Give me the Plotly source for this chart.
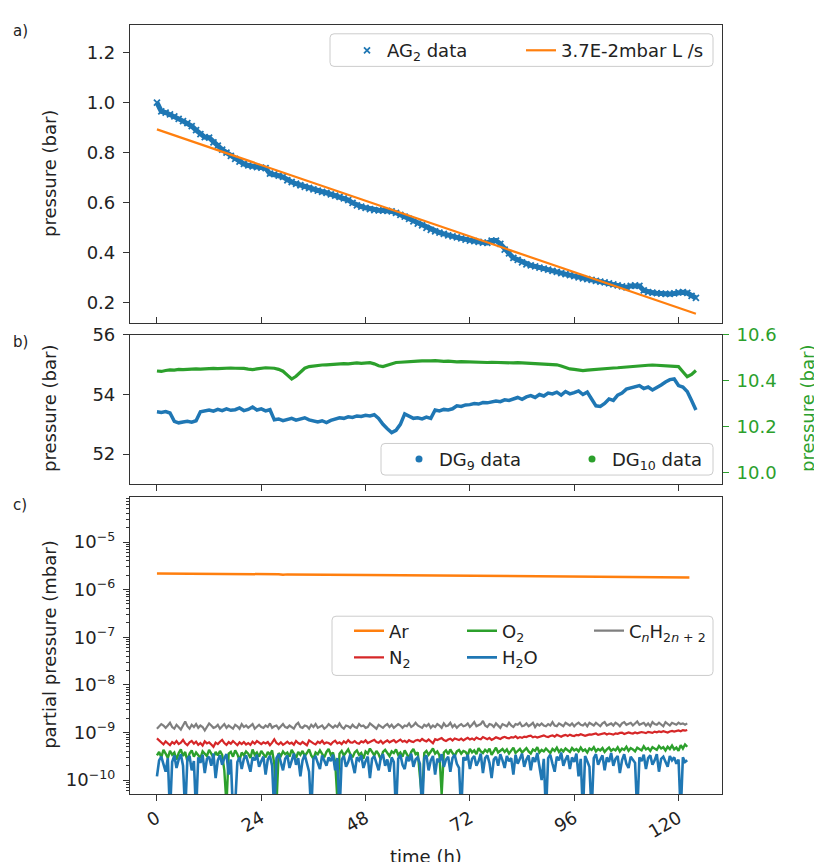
import plotly.graph_objects as go

# ---------------- data ----------------
# a) AG2 pressure (bar), hourly samples starting at t = 0 h
ag2_pressure = [
    1.000, 0.965, 0.960, 0.953, 0.945, 0.935, 0.926, 0.918, 0.906, 0.890,
    0.874, 0.862, 0.860, 0.841, 0.828, 0.812, 0.800, 0.787, 0.775, 0.764,
    0.755, 0.749, 0.745, 0.742, 0.740, 0.738, 0.716, 0.714, 0.708, 0.703,
    0.690, 0.683, 0.676, 0.670, 0.664, 0.659, 0.654, 0.649, 0.644, 0.640,
    0.634, 0.629, 0.624, 0.618, 0.611, 0.600, 0.590, 0.585, 0.580, 0.575,
    0.571, 0.570, 0.569, 0.568, 0.566, 0.560, 0.552, 0.545, 0.536, 0.526,
    0.517, 0.510, 0.500, 0.492, 0.486, 0.481, 0.476, 0.470, 0.466, 0.462,
    0.458, 0.453, 0.449, 0.447, 0.444, 0.441, 0.440, 0.449, 0.449, 0.436,
    0.413, 0.398, 0.380, 0.372, 0.362, 0.354, 0.350, 0.346, 0.341, 0.337,
    0.333, 0.328, 0.324, 0.319, 0.315, 0.311, 0.307, 0.302, 0.298, 0.295,
    0.292, 0.288, 0.285, 0.282, 0.278, 0.274, 0.270, 0.266, 0.262, 0.268,
    0.270, 0.268, 0.250, 0.243, 0.241, 0.239, 0.237, 0.236, 0.236, 0.238,
    0.242, 0.243, 0.240, 0.228, 0.220]
fit_hours = [0, 124]
fit_pressure = [0.893, 0.157]

# b) DG9 (left axis) and DG10 (right axis) pressure (bar), hourly
dg9_pressure = [
    53.42, 53.40, 53.43, 53.38, 53.10, 53.05, 53.08, 53.10, 53.07, 53.12,
    53.42, 53.45, 53.48, 53.44, 53.50, 53.46, 53.52, 53.47, 53.49, 53.55,
    53.46, 53.50, 53.58, 53.48, 53.52, 53.45, 53.49, 53.15, 53.18, 53.12,
    53.16, 53.20, 53.14, 53.17, 53.22, 53.15, 53.10, 53.08, 53.12, 53.06,
    53.13, 53.18, 53.22, 53.20, 53.25, 53.23, 53.28, 53.26, 53.30, 53.28,
    53.32, 53.20, 53.00, 52.85, 52.72, 52.80, 53.00, 53.35, 53.28, 53.20,
    53.22, 53.18, 53.24, 53.20, 53.48, 53.45, 53.50, 53.48, 53.52, 53.62,
    53.60, 53.65, 53.66, 53.70, 53.68, 53.73, 53.72, 53.75, 53.78, 53.76,
    53.82, 53.80, 53.86, 53.90, 53.84, 53.92, 53.96, 53.90, 54.00, 53.95,
    54.05, 54.02, 54.08, 53.98, 54.10, 54.02, 54.06, 54.12, 54.00, 54.08,
    53.85, 53.62, 53.60, 53.70, 53.85, 53.80, 53.98, 54.05, 54.18, 54.22,
    54.28, 54.30, 54.20, 54.25, 54.15, 54.22, 54.32, 54.42, 54.50, 54.52,
    54.30, 54.25, 54.10, 53.80, 53.48]
dg10_pressure = [
    10.443, 10.441, 10.445, 10.448, 10.447, 10.450, 10.449, 10.451, 10.450, 10.452,
    10.451, 10.453, 10.452, 10.454, 10.453, 10.455, 10.454, 10.456, 10.455, 10.456,
    10.454, 10.451, 10.449, 10.452, 10.455, 10.457, 10.456, 10.455, 10.450, 10.442,
    10.425, 10.408, 10.420, 10.440, 10.455, 10.462, 10.465, 10.467, 10.469, 10.470,
    10.472, 10.471, 10.474, 10.475, 10.474, 10.477, 10.478, 10.476, 10.478, 10.479,
    10.474, 10.466, 10.462, 10.468, 10.476, 10.480, 10.481, 10.483, 10.484, 10.485,
    10.486, 10.487, 10.486, 10.487, 10.488, 10.486, 10.485, 10.486, 10.484, 10.483,
    10.484, 10.483, 10.482, 10.481, 10.482, 10.481, 10.480, 10.481, 10.480, 10.479,
    10.480, 10.479, 10.478, 10.479, 10.478, 10.477, 10.476, 10.477, 10.476, 10.475,
    10.474, 10.473, 10.470, 10.465, 10.458, 10.452, 10.450, 10.448, 10.445, 10.447,
    10.449, 10.450, 10.452, 10.454, 10.455, 10.456, 10.457, 10.459, 10.460, 10.462,
    10.464, 10.465, 10.467, 10.468, 10.469, 10.468, 10.468, 10.467, 10.466, 10.464,
    10.462, 10.440, 10.418, 10.428, 10.445]

# c) partial pressures; Ar in units of 1e-6 mbar,
#    the others in units of 1e-10 mbar, sampled every half hour from t = 0 h
ar_hours = [0, 12, 24, 28, 29, 30, 48, 60, 72, 84, 96, 108, 120, 122.5]
ar_e6 = [2.18, 2.16, 2.12, 2.10, 2.05, 2.09, 2.04, 2.01, 1.97, 1.93, 1.90, 1.86, 1.82, 1.80]
cnh_e10 = [
    12, 13.5, 15, 14, 12.5, 14, 16, 13, 12, 14.5,
    13, 11.5, 14, 17, 13.5, 12, 14.5, 13, 15, 12.5,
    14, 13, 11, 13.5, 15.5, 14, 12.5, 13, 14.5, 12,
    13.5, 15, 12.5, 14, 13, 12, 14.5, 13.5, 12, 15,
    13, 14, 12.5, 13.5, 15, 12, 13, 14.5, 13, 12.5,
    14, 13, 15.5, 12.5, 13.5, 14, 12, 13.5, 15, 13,
    12.5, 14, 13, 12, 14.5, 16, 13, 12.5, 14, 13.5,
    12, 14.5, 13, 15, 12.5, 13.5, 14, 12, 13, 15,
    13.5, 12.5, 14, 13, 15.5, 13, 12, 14, 13.5, 12.5,
    14.5, 13, 12.5, 15, 13.5, 14, 12.5, 13, 15.5, 14,
    13, 12, 14.5, 13.5, 12.5, 14, 15, 13, 14.5, 12.5,
    13.5, 15, 14, 12.5, 14, 13.5, 15.5, 13, 14, 16,
    14, 13, 12.5, 14.5, 13.5, 15, 12.5, 14, 13, 15,
    14, 12.5, 15.5, 13.5, 14, 16, 13, 14.5, 12.5, 14,
    15, 13.5, 14, 15.5, 13, 14.5, 16.5, 13.5, 14, 15,
    17.5, 14, 13, 15, 14.5, 13, 15.5, 14, 12.5, 15,
    14.5, 13.5, 16, 14, 13, 15, 14.5, 16, 13.5, 14,
    15.5, 13.5, 14.5, 16, 13, 15, 14, 15.5, 14, 13.5,
    15, 14, 16.5, 14, 13.5, 15.5, 14.5, 13.5, 16, 15,
    14, 15.5, 13.5, 15, 16, 14.5, 14, 15.5, 13.5, 16,
    15, 14, 16, 14.5, 13.5, 15.5, 16.5, 14, 15, 15.5,
    14, 16, 15, 13.5, 15.5, 16.5, 14.5, 15, 16, 14,
    15.5, 17, 14.5, 15, 16, 14, 15.5, 13.5, 16.5, 15,
    14.5, 16, 15, 13.5, 16.5, 15.5, 14, 16, 15, 14.5,
    16, 15, 15.5, 14.5, 15.5]
n2_e10 = [
    7.5, 6.8, 6.2, 5.6, 6.5, 6.0, 5.4, 6.3, 5.8, 6.6,
    5.7, 6.1, 7.0, 5.9, 5.4, 6.2, 6.6, 5.8, 6.4, 5.5,
    6.0, 5.3, 6.5, 5.9, 6.2, 5.6, 5.0, 6.1, 5.7, 6.4,
    7.0, 6.0, 5.5, 6.3, 5.8, 6.6, 5.9, 5.4, 6.2, 5.7,
    6.3, 5.6, 6.0, 5.5, 6.4, 5.8, 6.6, 6.1, 5.7, 6.2,
    5.9, 6.3, 5.4, 6.1, 7.2, 6.0, 5.6, 6.2, 5.5, 5.9,
    6.4, 5.8, 6.1, 5.5, 6.6, 6.0, 5.7, 6.3, 5.9, 5.4,
    6.8, 6.2, 5.9, 5.6, 6.4, 6.0, 6.7, 5.8, 6.2, 6.0,
    5.6, 6.3, 6.7, 5.9, 6.2, 5.7, 6.5, 6.0, 6.9, 6.2,
    6.1, 6.6, 6.0, 5.8, 6.5, 6.2, 6.8, 6.0, 6.3, 6.6,
    7.0, 6.3, 6.1, 6.7, 5.9, 6.4, 6.8, 6.2, 6.5, 6.9,
    6.2, 6.6, 7.1, 6.4, 6.7, 6.2, 6.9, 6.5, 6.3, 6.8,
    7.0, 6.6, 7.3, 6.8, 6.5, 7.1, 6.4, 5.9, 7.2, 6.9,
    7.3, 7.6, 6.9, 6.6, 7.1, 7.4, 6.8, 7.5, 7.2, 6.9,
    7.4, 6.8, 7.3, 7.7, 7.1, 7.5, 7.0, 7.8, 7.4, 7.2,
    8.0, 7.5, 7.2, 7.7, 7.0, 7.4, 7.9, 7.6, 7.3, 7.8,
    8.1, 7.7, 7.5, 8.0, 7.8, 8.3, 7.6, 8.0, 7.7, 8.2,
    8.0, 8.4, 8.6, 7.9, 8.2, 7.8, 8.1, 8.5, 8.7, 8.2,
    8.0, 8.4, 8.7, 8.2, 8.9, 8.5, 8.1, 8.6, 8.9, 8.4,
    9.0, 8.6, 8.4, 8.9, 8.7, 9.2, 9.0, 8.5, 8.8, 9.1,
    9.0, 9.3, 9.5, 8.9, 9.2, 9.4, 9.7, 9.1, 9.5, 9.3,
    9.0, 9.6, 9.4, 9.8, 9.9, 9.3, 9.6, 10.0, 9.7, 9.5,
    10.0, 9.6, 9.9, 10.2, 10.0, 9.7, 10.3, 10.1, 9.8, 10.4,
    10.1, 10.5, 10.2, 10.6, 10.3, 10.0, 10.5, 10.8, 10.4, 10.7,
    11.0, 10.6, 11.2, 10.9, 11.3]
o2_e10 = [
    3.3, 3.9, 3.0, 4.3, 3.6, 2.9, 4.1, 3.4, 3.8, 2.7,
    3.7, 4.4, 3.2, 3.9, 2.5, 3.6, 4.2, 3.1, 3.8, 3.4,
    2.9, 4.0, 3.5, 3.2, 4.3, 3.7, 3.0, 3.9, 3.3, 4.1,
    3.4, 1.6, 0.3, 3.6, 3.9, 3.1, 4.2, 3.5, 2.6, 3.8,
    3.3, 4.0, 3.6, 2.9, 4.4, 3.4, 3.8, 3.1, 4.1, 3.5,
    3.0, 3.9, 3.4, 4.2, 2.2, 0.3, 3.7, 3.2, 4.0, 3.5,
    3.8, 3.1, 4.3, 3.6, 2.9, 3.9, 3.4, 4.1, 3.2, 3.7,
    4.4, 3.3, 2.8, 3.8, 3.5, 4.2, 3.6, 3.0, 3.9, 4.5,
    3.4, 3.8, 2.4, 0.4, 3.6, 4.1, 3.3, 3.9, 4.4, 3.5,
    3.0, 3.8, 4.2, 3.4, 3.7, 2.8, 4.0, 3.6, 4.6, 3.9,
    3.3, 4.1, 3.5, 2.7, 3.9, 4.3, 3.6, 3.2, 4.0, 3.7,
    4.4, 3.4, 3.8, 3.1, 4.2, 3.6, 2.9, 3.9, 4.5, 3.5,
    3.8, 1.2, 0.4, 3.7, 4.1, 3.4, 3.9, 4.6, 3.6, 4.0,
    3.3, 0.5, 3.8, 4.2, 3.5, 4.4, 3.7, 3.2, 4.0, 4.3,
    3.6, 4.1, 3.9, 3.3, 4.5, 3.8, 4.2, 3.5, 4.7, 4.0,
    3.7, 4.3, 3.9, 4.6, 3.4, 4.1, 4.8, 3.8, 4.2, 4.5,
    3.9, 4.4, 3.6, 4.2, 4.8, 3.7, 4.0, 4.5, 3.8, 4.3,
    4.7, 4.0, 3.6, 4.4, 4.1, 4.9, 3.8, 4.3, 4.0, 4.6,
    4.2, 3.7, 4.5, 4.1, 4.8, 3.9, 4.4, 4.0, 4.6, 4.3,
    3.9, 4.7, 4.2, 4.5, 4.0, 4.8, 4.1, 4.4, 3.8, 4.6,
    4.3, 4.9, 4.0, 4.5, 4.2, 4.7, 3.9, 4.4, 4.8, 4.1,
    4.5, 4.2, 4.9, 4.0, 4.6, 4.3, 5.0, 4.1, 4.7, 4.4,
    4.0, 4.8, 4.5, 4.2, 5.1, 4.4, 4.7, 4.1, 4.9, 4.6,
    4.3, 5.2, 4.6, 4.9, 4.2, 5.0, 4.5, 5.3, 4.4, 4.8,
    4.1, 5.4, 4.6, 5.6, 5.0]
h2o_e10 = [
    1.2, 2.6, 3.1, 2.2, 1.5, 2.9, 0.2, 2.4, 3.3, 1.8,
    2.7, 3.5, 2.0, 0.2, 2.8, 3.2, 1.6, 2.5, 0.2, 3.0,
    2.3, 3.4, 1.4, 2.8, 3.1, 2.0, 3.6, 1.1, 2.6, 3.3,
    2.1, 2.9, 3.5, 1.3, 2.7, 0.2, 0.3, 2.4, 3.0, 1.7,
    2.8, 3.3, 2.2, 1.5, 3.0, 2.6, 3.4, 1.9, 2.5, 3.1,
    1.3, 2.7, 3.2, 2.0, 0.2, 2.9, 3.5, 2.3, 1.6, 2.8,
    3.3, 1.8, 2.5, 3.6, 2.1, 2.9, 1.2, 2.6, 3.4, 2.2,
    1.5, 0.2, 2.8, 3.1, 2.4, 1.7, 3.3, 2.6, 2.0, 3.0,
    2.5, 3.4, 1.6, 2.9, 0.2, 2.7, 3.2, 1.9, 2.4, 3.5,
    2.1, 1.4, 3.0, 2.6, 3.3, 1.8, 2.5, 3.1, 1.1, 2.8,
    3.2, 2.3, 1.6, 2.9, 3.5, 2.0, 2.7, 1.5, 3.0, 2.4,
    0.2, 2.8, 3.4, 2.1, 1.7, 3.1, 2.5, 3.6, 1.9, 2.7,
    3.0, 2.2, 0.2, 2.9, 3.3, 1.6, 2.6, 3.2, 1.3, 2.8,
    2.4, 3.5, 1.9, 2.7, 3.1, 1.5, 2.9, 3.4, 2.2, 1.8,
    0.2, 3.0, 2.6, 3.4, 1.7, 2.8, 3.2, 2.0, 2.5, 3.6,
    1.4, 2.9, 3.3, 2.3, 1.1, 2.7, 3.1, 2.0, 3.5, 2.6,
    1.8, 3.2, 2.5, 2.9, 1.3, 3.4, 2.2, 2.8, 3.6, 1.9,
    2.7, 3.3, 1.6, 3.0, 2.4, 3.7, 2.1, 1.0, 2.8, 0.2,
    2.9, 3.4, 2.2, 1.5, 3.1, 2.6, 3.8, 2.0, 2.7, 3.3,
    1.7, 3.0, 2.4, 3.6, 1.2, 2.8, 0.2, 3.2, 2.5, 1.9,
    0.2, 2.9, 3.5, 2.1, 2.7, 3.3, 1.6, 3.0, 2.4, 3.7,
    2.0, 2.8, 3.2, 1.4, 2.6, 3.5, 2.2, 1.8, 3.1, 2.7,
    2.3, 0.2, 3.0, 2.5, 3.4, 1.7, 2.9, 3.3, 2.1, 2.6,
    3.5, 1.5, 2.8, 3.1, 2.4, 1.9, 3.2, 2.6, 3.0, 2.2,
    2.7, 0.2, 3.0, 2.4, 2.6]

time_ticks = [0, 24, 48, 72, 96, 120]
a_ticks = [0.2, 0.4, 0.6, 0.8, 1.0, 1.2]
b_left_ticks = [52, 54, 56]
b_right_ticks = [10.0, 10.2, 10.4, 10.6]
c_ticks = [1e-10, 1e-9, 1e-8, 1e-7, 1e-6, 1e-5]
c_ticktext = ["10<sup>\u221210</sup>", "10<sup>\u22129</sup>", "10<sup>\u22128</sup>",
              "10<sup>\u22127</sup>", "10<sup>\u22126</sup>", "10<sup>\u22125</sup>"]

# ---------------- styling ----------------
BLUE, ORANGE, GREEN, RED, GRAY = "#1f77b4", "#ff7f0e", "#2ca02c", "#d62728", "#7f7f7f"
TXT = "#222222"
FONT = "DejaVu Sans"
OFF = 8                       # page body margin
FW, FH = 822 - OFF, 862 - OFF  # figure size so that the figure ends at the window edge


def px(x):
    return (x - OFF) / FW


def py(y):
    return 1 - (y - OFF) / FH


def hourly(series):
    return list(range(len(series)))


def half_hourly(series):
    return [i * 0.5 for i in range(len(series))]


fig = go.Figure()

# panel a
fig.add_trace(go.Scatter(x=hourly(ag2_pressure), y=ag2_pressure, mode="lines",
                         line=dict(color=BLUE, width=5), showlegend=False, hoverinfo="skip",
                         xaxis="x", yaxis="y"))
fig.add_trace(go.Scatter(x=hourly(ag2_pressure), y=ag2_pressure, mode="markers",
                         marker=dict(symbol="x-thin", size=6, color=BLUE, line=dict(width=1.8, color=BLUE)),
                         name="AG<sub>2</sub> data", xaxis="x", yaxis="y", legend="legend"))
fig.add_trace(go.Scatter(x=fit_hours, y=fit_pressure, mode="lines", line=dict(color=ORANGE, width=2.2),
                         name="3.7E-2mbar L /s", xaxis="x", yaxis="y", legend="legend2"))

# panel b
fig.add_trace(go.Scatter(x=hourly(dg9_pressure), y=dg9_pressure, mode="lines",
                         line=dict(color=BLUE, width=3.5), showlegend=False, xaxis="x2", yaxis="y2"))
fig.add_trace(go.Scatter(x=hourly(dg10_pressure), y=dg10_pressure, mode="lines",
                         line=dict(color=GREEN, width=3.2), showlegend=False, xaxis="x2", yaxis="y3"))
fig.add_trace(go.Scatter(x=[None], y=[None], mode="markers", marker=dict(color=BLUE, size=7),
                         name="DG<sub>9</sub> data", xaxis="x2", yaxis="y2", legend="legend3"))
fig.add_trace(go.Scatter(x=[None], y=[None], mode="markers", marker=dict(color=GREEN, size=7),
                         name="DG<sub>10</sub> data", xaxis="x2", yaxis="y3", legend="legend4"))

# panel c
fig.add_trace(go.Scatter(x=ar_hours, y=[v * 1e-6 for v in ar_e6], mode="lines",
                         line=dict(color=ORANGE, width=2.5), name="Ar", xaxis="x3", yaxis="y4", legend="legend5"))
fig.add_trace(go.Scatter(x=half_hourly(cnh_e10), y=[v * 1e-10 for v in cnh_e10], mode="lines",
                         line=dict(color=GRAY, width=2.2), name="C<sub><i>n</i></sub>H<sub>2<i>n</i> + 2</sub>",
                         xaxis="x3", yaxis="y4", legend="legend9"))
fig.add_trace(go.Scatter(x=half_hourly(n2_e10), y=[v * 1e-10 for v in n2_e10], mode="lines",
                         line=dict(color=RED, width=2.2), name="N<sub>2</sub>", xaxis="x3", yaxis="y4",
                         legend="legend6"))
fig.add_trace(go.Scatter(x=half_hourly(o2_e10), y=[v * 1e-10 for v in o2_e10], mode="lines",
                         line=dict(color=GREEN, width=2.4), name="O<sub>2</sub>", xaxis="x3", yaxis="y4",
                         legend="legend7"))
fig.add_trace(go.Scatter(x=half_hourly(h2o_e10), y=[v * 1e-10 for v in h2o_e10], mode="lines",
                         line=dict(color=BLUE, width=2.6), name="H<sub>2</sub>O", xaxis="x3", yaxis="y4",
                         legend="legend8"))

XDOM = [px(130), px(722)]
XRANGE = [-6.2, 130]
common_axis = dict(showline=True, linecolor="#333333", linewidth=1.2, mirror=True, showgrid=False,
                   zeroline=False, tickcolor="#333333", ticklen=6, tickwidth=1.2,
                   tickfont=dict(family=FONT, size=18, color=TXT))

fig.update_layout(
    xaxis=dict(domain=XDOM, anchor="y", range=XRANGE, tickvals=time_ticks, ticks="inside",
               showticklabels=False, **common_axis),
    yaxis=dict(domain=[py(316), py(14)], anchor="x", range=[0.12, 1.31], tickvals=a_ticks,
               tickformat=".1f", ticks="outside", ticklabelstandoff=4, **common_axis),
    xaxis2=dict(domain=XDOM, anchor="y2", range=XRANGE, tickvals=time_ticks, ticks="outside",
                showticklabels=False, **common_axis),
    yaxis2=dict(domain=[py(479), py(328)], anchor="x2", range=[51, 56], tickvals=b_left_ticks,
                ticks="outside", ticklabelstandoff=4, **common_axis),
    yaxis3=dict(overlaying="y2", anchor="x2", side="right", range=[9.952, 10.6], tickvals=b_right_ticks,
                tickformat=".1f", ticks="outside", ticklen=6, tickwidth=1.2, tickcolor=GREEN,
                tickfont=dict(family=FONT, size=18, color=GREEN), showline=False, showgrid=False,
                zeroline=False, ticklabelstandoff=4),
    xaxis3=dict(domain=XDOM, anchor="y4", range=XRANGE, tickvals=time_ticks, ticks="outside",
                tickangle=-30, **common_axis),
    yaxis4=dict(domain=[py(793), py(492)], anchor="x3", type="log", range=[-10.29, -4.05],
                tickvals=c_ticks, ticktext=c_ticktext, ticks="outside", ticklabelstandoff=4,
                minor=dict(ticks="outside", ticklen=3, tickcolor="#333333", dtick="D1", showgrid=False),
                **common_axis),
    width=FW, height=FH, margin=dict(l=0, r=0, t=0, b=0),
    plot_bgcolor="white", paper_bgcolor="white",
    font=dict(family=FONT, size=18, color=TXT),
)

# legends (one per entry so that placement matches the multi-column layout)
legend_pos = {
    "legend": (347, 40), "legend2": (521, 40),
    "legend3": (399, 454), "legend4": (572, 454),
    "legend5": (349, 628), "legend6": (349, 655),
    "legend7": (462, 628), "legend8": (462, 655),
    "legend9": (589, 628),
}
for key, (lx, ly) in legend_pos.items():
    fig.update_layout({key: dict(x=px(lx), y=py(ly), xanchor="left", yanchor="middle",
                                 bgcolor="rgba(0,0,0,0)", borderwidth=0,
                                 font=dict(family=FONT, size=18, color=TXT))})


def rounded_rect(x0, y0, x1, y1, r=4):
    X = px
    Y = py
    return (f"M {X(x0 + r)},{Y(y0)} L {X(x1 - r)},{Y(y0)} Q {X(x1)},{Y(y0)} {X(x1)},{Y(y0 + r)} "
            f"L {X(x1)},{Y(y1 - r)} Q {X(x1)},{Y(y1)} {X(x1 - r)},{Y(y1)} "
            f"L {X(x0 + r)},{Y(y1)} Q {X(x0)},{Y(y1)} {X(x0)},{Y(y1 - r)} "
            f"L {X(x0)},{Y(y0 + r)} Q {X(x0)},{Y(y0)} {X(x0 + r)},{Y(y0)} Z")


for (x0, y0, x1, y1) in [(330, 23, 713, 56), (381, 438, 713, 470), (332, 613, 713, 673)]:
    fig.add_shape(type="path", path=rounded_rect(x0, y0, x1, y1), xref="paper", yref="paper",
                  line=dict(color="#cccccc", width=1), fillcolor="rgba(255,255,255,0.8)", layer="above")

# text annotations: panel labels and axis titles
annos = [
    dict(text="a)", x=20, y=20, size=15, angle=0, color=TXT),
    dict(text="b)", x=20, y=335, size=15, angle=0, color=TXT),
    dict(text="c)", x=20, y=500, size=15, angle=0, color=TXT),
    dict(text="pressure (bar)", x=50, y=165, size=18, angle=-90, color=TXT),
    dict(text="pressure (bar)", x=50, y=403, size=18, angle=-90, color=TXT),
    dict(text="pressure (bar)", x=808, y=403, size=18, angle=-90, color=GREEN),
    dict(text="partial pressure (mbar)", x=50, y=642, size=18, angle=-90, color=TXT),
    dict(text="time (h)", x=426, y=856, size=18, angle=0, color=TXT),
]
for a in annos:
    fig.add_annotation(text=a["text"], x=px(a["x"]), y=py(a["y"]), xref="paper", yref="paper",
                       xanchor="center", yanchor="middle", showarrow=False, textangle=a["angle"],
                       font=dict(family=FONT, size=a["size"], color=a["color"]))

fig.write_html("out.html")
